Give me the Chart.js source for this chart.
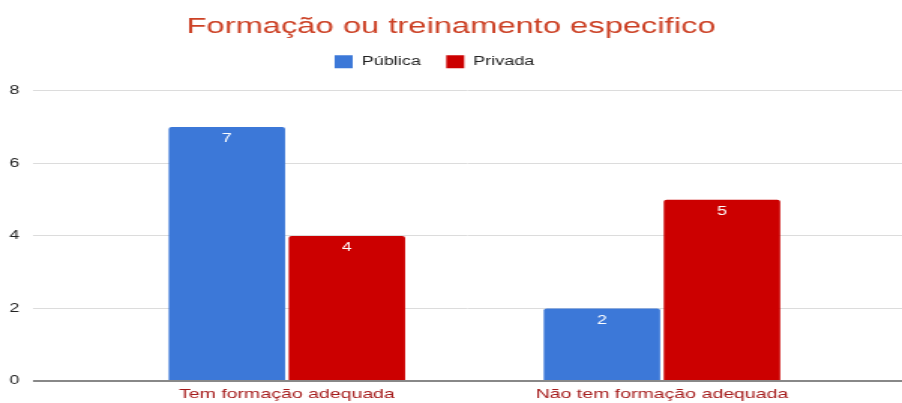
<!DOCTYPE html>
<html>
<head>
<meta charset="utf-8">
<script src="https://cdn.jsdelivr.net/npm/chart.js@4"></script>
<style>
  body { margin: 0; background: #fff; overflow: hidden; }
  /* l'original est étiré en largeur : on dessine à 601px puis on étire */
  #wrap { width: 601px; height: 403px; transform: scaleX(1.5008); transform-origin: 0 0; }
</style>
</head>
<body>
<div id="wrap"><canvas id="myChart"></canvas></div>
<script>
const categories = ['Tem formação adequada', 'Não tem formação adequada'];
const publica = [7, 2];
const privada = [4, 5];
const yTicks = [0, 2, 4, 6, 8];

Chart.defaults.font.family = '"Liberation Sans", Arial, sans-serif';

// valeurs écrites dans le haut des barres
const barValues = {
  id: 'barValues',
  afterDatasetsDraw(chart) {
    const ctx = chart.ctx;
    ctx.save();
    ctx.fillStyle = '#fff';
    ctx.font = '12px "Liberation Sans", Arial, sans-serif';
    ctx.textAlign = 'center';
    ctx.textBaseline = 'middle';
    chart.data.datasets.forEach((ds, i) => {
      chart.getDatasetMeta(i).data.forEach((bar, j) => {
        ctx.fillText(String(ds.data[j].y), bar.x, bar.y + 12);
      });
    });
    ctx.restore();
  }
};

// la légende de l'original est un peu décalée vers la gauche
const legendShift = {
  id: 'legendShift',
  afterLayout(chart) {
    chart.legend.left -= 11;
    chart.legend.right -= 11;
  }
};

const toPoints = vals => vals.map((v, i) => ({ x: i + 1, y: v }));

const chart = new Chart(document.getElementById('myChart'), {
  type: 'bar',
  data: {
    datasets: [{
      label: 'Pública',
      data: toPoints(publica),
      backgroundColor: '#3c78d8',
      borderRadius: 2,
      borderSkipped: 'bottom'
    }, {
      label: 'Privada',
      data: toPoints(privada),
      backgroundColor: '#cc0000',
      borderRadius: 2,
      borderSkipped: 'bottom'
    }]
  },
  options: {
    responsive: true,
    maintainAspectRatio: false,
    animation: false,
    categoryPercentage: 0.64,
    barPercentage: 0.97,
    layout: { padding: 0 },
    plugins: {
      title: {
        display: true,
        text: 'Formação ou treinamento especifico',
        color: '#cc4125',
        font: { size: 21.8, weight: 'normal', lineHeight: 1 },
        padding: { top: 16.5, bottom: 0 }
      },
      legend: {
        labels: {
          color: '#222',
          font: { size: 12 },
          boxWidth: 12,
          boxHeight: 13,
          padding: 17
        }
      },
      // espace vide sous la légende
      subtitle: {
        display: true,
        text: ' ',
        weight: 500,
        font: { size: 1, lineHeight: 1 },
        padding: { top: 11.5, bottom: 0 }
      },
      tooltip: { enabled: false }
    },
    scales: {
      x: {
        type: 'linear',
        offset: false,
        bounds: 'data',
        min: 0.323,
        max: 2.64,
        afterBuildTicks: s => { s.ticks = categories.map((c, i) => ({ value: i + 1 })); },
        afterFit: s => { s.height = 22; },
        ticks: {
          color: '#a51b1b',
          font: { size: 13 },
          padding: 6,
          maxRotation: 0,
          callback: v => categories[v - 1]
        },
        grid: { display: false, drawTicks: false, offset: false },
        border: { display: false }
      },
      y: {
        min: 0,
        max: 8,
        afterBuildTicks: s => { s.ticks = yTicks.map(v => ({ value: v })); },
        afterFit: s => { s.width = 22; },
        ticks: {
          color: '#222',
          font: { size: 12 },
          padding: 9
        },
        grid: {
          drawTicks: false,
          color: c => c.tick && c.tick.value === 0 ? '#888' : '#dcdcdc',
          lineWidth: c => c.tick && c.tick.value === 0 ? 2 : 1
        },
        border: { display: false }
      }
    }
  },
  plugins: [barValues, legendShift]
});
</script>
</body>
</html>
